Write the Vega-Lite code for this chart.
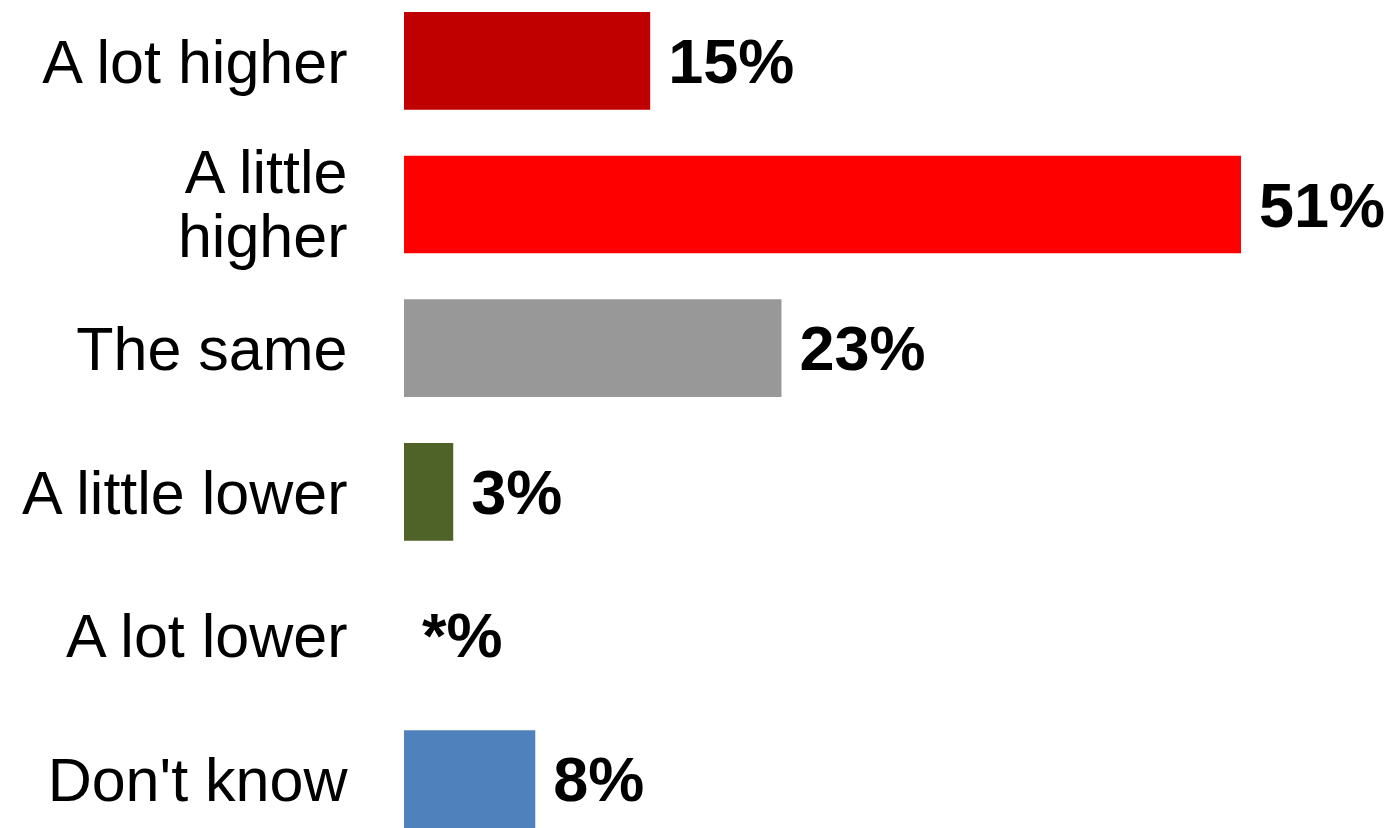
{
  "$schema": "https://vega.github.io/schema/vega-lite/v6.json",
  "autosize": "none",
  "width": 988,
  "height": 816,
  "padding": {"left": 404, "top": 12, "right": 0, "bottom": 0},
  "background": "white",
  "config": {"view": {"stroke": null}, "font": "Liberation Sans"},
  "data": {
    "values": [
      {"category": "A lot higher", "value": 15, "label": "15%", "color": "#C00000"},
      {"category": "A little higher", "value": 51, "label": "51%", "color": "#FF0000"},
      {"category": "The same", "value": 23, "label": "23%", "color": "#989898"},
      {"category": "A little lower", "value": 3, "label": "3%", "color": "#4F6228"},
      {"category": "A lot lower", "value": 0, "label": "*%", "color": "#7F7F7F"},
      {"category": "Don't know", "value": 8, "label": "8%", "color": "#4F81BD"}
    ]
  },
  "encoding": {
    "y": {
      "field": "category",
      "type": "nominal",
      "sort": null,
      "scale": {"paddingInner": 0.32, "paddingOuter": 0},
      "axis": {
        "title": null,
        "ticks": false,
        "domain": false,
        "labelFont": "Liberation Sans",
        "labelFontSize": 61,
        "labelColor": "#000000",
        "labelPadding": 57,
        "labelLimit": 400,
        "labelLineHeight": 64,
        "labelOffset": {"condition": {"test": "datum.value == 'A little higher'", "value": -30}, "value": 4},
        "labelExpr": "datum.label == 'A little higher' ? ['A little ', 'higher'] : datum.label"
      }
    }
  },
  "layer": [
    {
      "mark": {"type": "bar"},
      "encoding": {
        "x": {
          "field": "value",
          "type": "quantitative",
          "scale": {"domain": [0, 60.2], "nice": false},
          "axis": null
        },
        "color": {"field": "color", "type": "nominal", "scale": null, "legend": null}
      }
    },
    {
      "mark": {"type": "text", "align": "left", "baseline": "middle", "dx": 18, "dy": 3, "fontSize": 63, "fontWeight": "bold", "font": "Liberation Sans", "color": "#000000"},
      "encoding": {
        "x": {"field": "value", "type": "quantitative"},
        "text": {"field": "label", "type": "nominal"}
      }
    }
  ]
}
